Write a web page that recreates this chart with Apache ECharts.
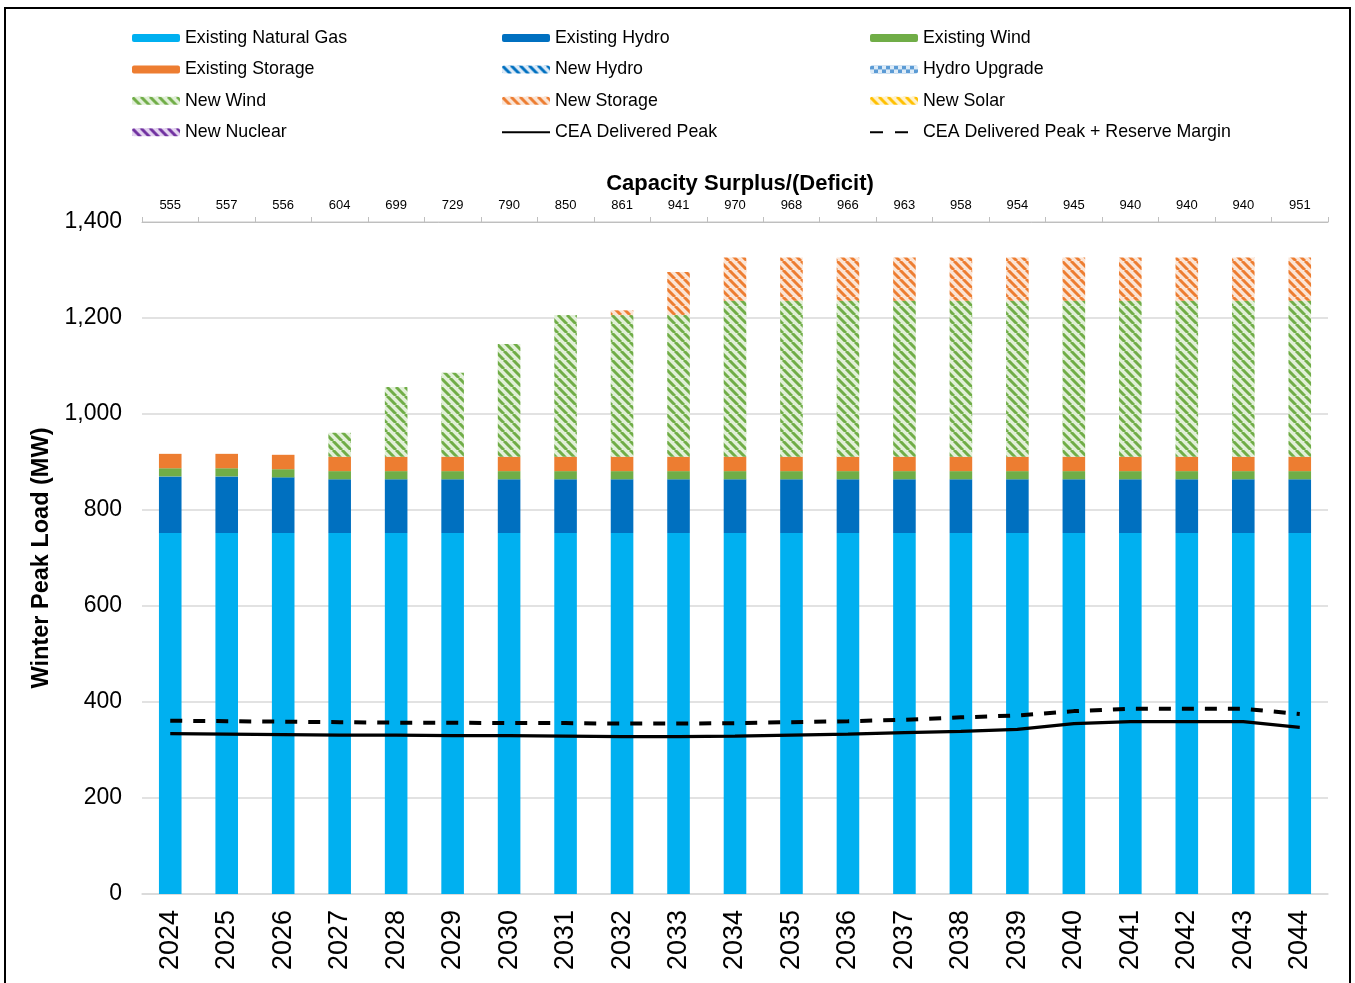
<!DOCTYPE html>
<html>
<head>
<meta charset="utf-8">
<script src="https://cdn.jsdelivr.net/npm/echarts@6/dist/echarts.min.js"></script>
<style>
  html, body { margin: 0; padding: 0; background: #fff; }
  #chart { width: 1355px; height: 983px; }
  #frame { position: absolute; left: 4px; top: 7px; width: 1343px; height: 990px; border: 2px solid #000; pointer-events: none; }
</style>
</head>
<body>
<div id="chart"></div>
<div id="frame"></div>
<script>
// data
var years = ['2024','2025','2026','2027','2028','2029','2030','2031','2032','2033','2034',
             '2035','2036','2037','2038','2039','2040','2041','2042','2043','2044'];
var surplus = ['555','557','556','604','699','729','790','850','861','941','970',
               '968','966','963','958','954','945','940','940','940','951'];

var existingGas     = [752,752,752,752,752,752,752,752,752,752,752,752,752,752,752,752,752,752,752,752,752];
var existingHydro   = [118,118,116,112,112,112,112,112,112,112,112,112,112,112,112,112,112,112,112,112,112];
var existingWind    = [17,17,17,17,17,17,17,17,17,17,17,17,17,17,17,17,17,17,17,17,17];
var existingStorage = [30,30,30,30,30,30,30,30,30,30,30,30,30,30,30,30,30,30,30,30,30];
var newHydro        = [0,0,0,0,0,0,0,0,0,0,0,0,0,0,0,0,0,0,0,0,0];
var hydroUpgrade    = [0,0,0,0,0,0,0,0,0,0,0,0,0,0,0,0,0,0,0,0,0];
var newWind         = [0,0,0,50,145,175,235,295,295,295,325,325,325,325,325,325,325,325,325,325,325];
var newStorage      = [0,0,0,0,0,0,0,0,10,90,90,90,90,90,90,90,90,90,90,90,90];
var newSolar        = [0,0,0,0,0,0,0,0,0,0,0,0,0,0,0,0,0,0,0,0,0];
var newNuclear      = [0,0,0,0,0,0,0,0,0,0,0,0,0,0,0,0,0,0,0,0,0];
var deliveredPeak   = [334,333,332,331,331,330,330,329,328,328,329,331,333,336,339,343,355,359,359,359,347];
var peakPlusReserve = [361,360,359,358,357,357,356,356,355,355,356,358,360,363,368,372,381,386,386,386,375];

function stripes(fg, bg) {
    var s = 9;
    var c = document.createElement('canvas');
    c.width = s; c.height = s;
    var g = c.getContext('2d');
    g.fillStyle = bg; g.fillRect(0, 0, s, s);
    g.strokeStyle = fg; g.lineWidth = 3;
    for (var k = -1; k <= 1; k++) {
        g.beginPath(); g.moveTo(k * s, 0); g.lineTo(k * s + s, s); g.stroke();
    }
    return { image: c, repeat: 'repeat' };
}
function checks(fg, bg) {
    var c = document.createElement('canvas');
    c.width = 8; c.height = 8;
    var g = c.getContext('2d');
    g.fillStyle = bg; g.fillRect(0, 0, 8, 8);
    g.fillStyle = fg; g.fillRect(0, 0, 4, 4); g.fillRect(4, 4, 4, 4);
    return { image: c, repeat: 'repeat' };
}

var myChart = echarts.init(document.getElementById('chart'));
var font = 'Liberation Sans, Arial, sans-serif';

function bar(name, data, color) {
    return {
        name: name, type: 'bar', stack: 'cap', data: data,
        barWidth: '40%', itemStyle: { color: color }
    };
}
function legend(left, names) {
    return {
        orient: 'vertical', left: left, top: 29, padding: 0, itemGap: 13.4,
        itemWidth: 48, itemHeight: 8,
        data: names.map(function (n) {
            // no marker dot on the line swatches
            if (n === 'CEA Delivered Peak') return { name: n, itemStyle: { opacity: 0 } };
            if (n.indexOf('CEA') === 0) return { name: n, itemStyle: { opacity: 0 }, lineStyle: { type: [13, 12] } };
            return n;
        }),
        textStyle: { fontFamily: font, fontSize: 17.8, color: '#000' }
    };
}

option = {
    animation: false,
    title: {
        text: 'Capacity Surplus/(Deficit)', left: 735, top: 168, textAlign: 'center',
        textStyle: { fontFamily: font, fontSize: 22, fontWeight: 'bold', color: '#000' }
    },
    legend: [
        legend(132, ['Existing Natural Gas','Existing Storage','New Wind','New Nuclear']),
        legend(501, ['Existing Hydro','New Hydro','New Storage','CEA Delivered Peak']),
        legend(869, ['Existing Wind','Hydro Upgrade','New Solar','CEA Delivered Peak + Reserve Margin'])
    ],
    grid: { left: 142, right: 27, top: 222, bottom: 89 },
    xAxis: [
        {
            type: 'category', data: years, position: 'bottom',
            axisLine: { lineStyle: { color: '#d9d9d9', width: 1.5 } },
            axisTick: { show: false },
            axisLabel: { rotate: 90, margin: 16, fontFamily: font, fontSize: 27, color: '#000' }
        },
        {
            type: 'category', data: surplus, position: 'top',
            axisLine: { lineStyle: { color: '#bfbfbf', width: 1 } },
            axisTick: { show: true, length: 5, lineStyle: { color: '#bfbfbf' } },
            axisLabel: { margin: 10, fontFamily: font, fontSize: 13, color: '#000' }
        }
    ],
    yAxis: {
        type: 'value', min: 0, max: 1400, interval: 200,
        name: 'Winter Peak Load (MW)', nameLocation: 'middle', nameGap: 88, nameRotate: 90,
        nameTextStyle: { fontFamily: font, fontSize: 23.5, fontWeight: 'bold', color: '#000' },
        axisLine: { show: false }, axisTick: { show: false },
        axisLabel: {
            margin: 20, fontFamily: font, fontSize: 23, color: '#000',
            formatter: function (v) { return v.toLocaleString('en-US'); }
        },
        splitLine: { lineStyle: { color: '#d9d9d9', width: 1.5 } }
    },
    series: [
        bar('Existing Natural Gas', existingGas, '#00b0f0'),
        bar('Existing Hydro', existingHydro, '#0070c0'),
        bar('Existing Wind', existingWind, '#70ad47'),
        bar('Existing Storage', existingStorage, '#ed7d31'),
        bar('New Hydro', newHydro, stripes('#0070c0', '#deebf7')),
        bar('Hydro Upgrade', hydroUpgrade, checks('#5b9bd5', '#ddebf7')),
        bar('New Wind', newWind, stripes('#70ad47', '#e2f0d9')),
        bar('New Storage', newStorage, stripes('#ed7d31', '#fbe5d6')),
        bar('New Solar', newSolar, stripes('#ffc000', '#fff2cc')),
        bar('New Nuclear', newNuclear, stripes('#7030a0', '#e4d5f0')),
        {
            name: 'CEA Delivered Peak', type: 'line', data: deliveredPeak, z: 5,
            symbol: 'none', lineStyle: { color: '#000', width: 3.2 }, itemStyle: { color: '#000' }
        },
        {
            name: 'CEA Delivered Peak + Reserve Margin', type: 'line', data: peakPlusReserve, z: 5,
            symbol: 'none', lineStyle: { color: '#000', width: 4, type: [12, 11] }, itemStyle: { color: '#000' }
        }
    ]
};

myChart.setOption(option);
</script>
</body>
</html>
